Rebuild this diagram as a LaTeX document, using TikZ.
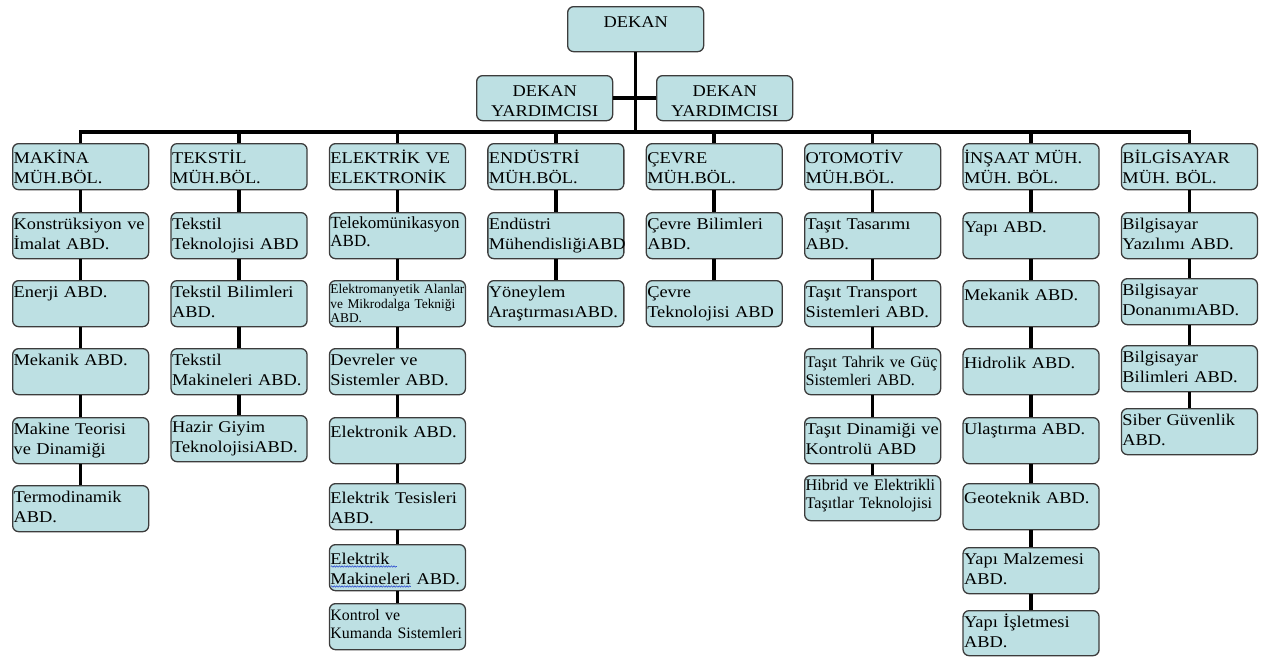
\documentclass[tikz,border=0pt]{standalone}
\usepackage{fontspec}
\setmainfont{Liberation Serif}[FakeStretch=1.12]
\newfontfamily\plainserif{Liberation Serif}
\usetikzlibrary{decorations.pathmorphing}
\definecolor{boxfill}{HTML}{BDE0E3}
\definecolor{boxline}{HTML}{3C3C3C}
\definecolor{spellblue}{HTML}{3050D0}
\newcommand\fbig{\fontsize{16.4pt}{20pt}\selectfont}
\newcommand\fmed{\plainserif\fontsize{16.2pt}{18pt}\selectfont}
\newcommand\fmedl{\plainserif\fontsize{17pt}{18pt}\selectfont}
\newcommand\fmeds{\plainserif\fontsize{15.9pt}{18pt}\selectfont}
\newcommand\fsml{\plainserif\fontsize{13.4pt}{14.5pt}\selectfont}
\begin{document}
\begin{tikzpicture}[x=1pt,y=-1pt,
  orgbox/.style={draw=boxline, fill=boxfill, line width=1.3pt, rounded corners=6pt,
    anchor=north west, text width=134pt, inner xsep=1pt, inner ysep=0.5pt,
    align=left, font=\fbig, text height=16pt, text depth=29pt},
  hdr/.style={orgbox, text height=19pt, text depth=26pt},
  low/.style={orgbox, text height=19.5pt, text depth=25.5pt},
  med/.style={orgbox, font=\fmed, text height=15pt, text depth=30pt},
  sml/.style={orgbox, font=\fsml, text height=12.5pt, text depth=32.5pt},
  deanbox/.style={orgbox, align=center, text height=20pt, text depth=24pt},
  link/.style={line width=3.6pt, black},
  spell/.style={spellblue, line width=0.6pt, decorate,
    decoration={snake, amplitude=0.7pt, segment length=2.6pt}}
]
\useasboundingbox (0,0) rectangle (1261,656);

% top
\node[deanbox] (dekan) at (567,6) {DEKAN};
\node[deanbox] (yl) at (476,75) {DEKAN\\YARDIMCISI};
\node[deanbox] (yr) at (656,75) {DEKAN\\YARDIMCISI};
\coordinate (bus) at (636,132);

% MAKINA
\node[hdr] (m0) at (12,143) {MAKİNA\\MÜH.BÖL.};
\node[orgbox] (m1) at (12,212) {Konstrüksiyon ve\\İmalat ABD.};
\node[orgbox] (m2) at (12,280) {Enerji ABD.};
\node[orgbox] (m3) at (12,348) {Mekanik ABD.};
\node[orgbox] (m4) at (12,417) {Makine Teorisi\\ve Dinamiği};
\node[orgbox] (m5) at (12,485) {Termodinamik\\ABD.};

% TEKSTIL
\node[hdr] (t0) at (170.4,143) {TEKSTİL\\MÜH.BÖL.};
\node[orgbox] (t1) at (170.4,212) {Tekstil\\Teknolojisi ABD};
\node[orgbox] (t2) at (170.4,280) {Tekstil Bilimleri\\ABD.};
\node[orgbox] (t3) at (170.4,348) {Tekstil\\Makineleri ABD.};
\node[orgbox] (t4) at (170.4,415) {Hazir Giyim\\TeknolojisiABD.};

% ELEKTRIK
\node[hdr] (e0) at (328.8,143) {ELEKTRİK VE\\ELEKTRONİK};
\node[med, font=\fmedl] (e1) at (328.8,212) {Telekomünikasyon\\ABD.};
\node[sml] (e2) at (328.8,280) {Elektromanyetik Alanlar\\ve Mikrodalga Tekniği\\ABD.};
\node[orgbox] (e3) at (328.8,348) {Devreler ve\\Sistemler ABD.};
\node[low] (e4) at (328.8,417) {Elektronik ABD.};
\node[low] (e5) at (328.8,483) {Elektrik Tesisleri\\ABD.};
\node[low] (e6) at (328.8,544) {Elektrik\\Makineleri ABD.};
\node[med, font=\fmeds, text height=16pt, text depth=29pt] (e7) at (328.8,603) {Kontrol ve\\Kumanda Sistemleri};

% ENDUSTRI
\node[hdr] (n0) at (487.2,143) {ENDÜSTRİ\\MÜH.BÖL.};
\node[orgbox] (n1) at (487.2,212) {Endüstri\\MühendisliğiABD};
\node[orgbox] (n2) at (487.2,280) {Yöneylem\\AraştırmasıABD.};

% CEVRE
\node[hdr] (c0) at (645.6,143) {ÇEVRE\\MÜH.BÖL.};
\node[orgbox] (c1) at (645.6,212) {Çevre Bilimleri\\ABD.};
\node[orgbox] (c2) at (645.6,280) {Çevre\\Teknolojisi ABD};

% OTOMOTIV
\node[hdr] (o0) at (804,143) {OTOMOTİV\\MÜH.BÖL.};
\node[orgbox] (o1) at (804,212) {Taşıt Tasarımı\\ABD.};
\node[orgbox] (o2) at (804,280) {Taşıt Transport\\Sistemleri ABD.};
\node[med, text height=18pt, text depth=27pt] (o3) at (804,348) {Taşıt Tahrik ve Güç\\Sistemleri ABD.};
\node[orgbox] (o4) at (804,417) {Taşıt Dinamiği ve\\Kontrolü ABD};
\node[med, text height=14pt, text depth=30pt] (o5) at (804,475) {Hibrid ve Elektrikli\\Taşıtlar Teknolojisi};

% INSAAT
\node[hdr] (i0) at (962.4,143) {İNŞAAT MÜH.\\MÜH. BÖL.};
\node[low] (i1) at (962.4,212) {Yapı ABD.};
\node[low] (i2) at (962.4,280) {Mekanik ABD.};
\node[low] (i3) at (962.4,348) {Hidrolik ABD.};
\node[orgbox] (i4) at (962.4,417) {Ulaştırma ABD.};
\node[low] (i5) at (962.4,483) {Geoteknik ABD.};
\node[orgbox] (i6) at (962.4,547) {Yapı Malzemesi\\ABD.};
\node[orgbox, text depth=28pt] (i7) at (962.4,610) {Yapı İşletmesi\\ABD.};

% BILGISAYAR
\node[hdr] (b0) at (1120.8,143) {BİLGİSAYAR\\MÜH. BÖL.};
\node[orgbox] (b1) at (1120.8,212) {Bilgisayar\\Yazılımı ABD.};
\node[orgbox] (b2) at (1120.8,278) {Bilgisayar\\DonanımıABD.};
\node[orgbox] (b3) at (1120.8,345) {Bilgisayar\\Bilimleri ABD.};
\node[orgbox] (b4) at (1120.8,408) {Siber Güvenlik\\ABD.};

% connectors
\draw[link] (dekan.south) -- (dekan.south |- bus);
\draw[link] (yl.east) -- (yr.west);
\draw[link] (m0.north) -- (m0.north |- bus) -- (b0.north |- bus) -- (b0.north);
\foreach \d in {t0,e0,n0,c0,o0,i0}
  \draw[link] (\d.north |- bus) -- (\d.north);
\foreach \a/\b in {m0/m1,m1/m2,m2/m3,m3/m4,m4/m5,
                   t0/t1,t1/t2,t2/t3,t3/t4,
                   e0/e1,e1/e2,e2/e3,e3/e4,e4/e5,e5/e6,e6/e7,
                   n0/n1,n1/n2, c0/c1,c1/c2,
                   o0/o1,o1/o2,o2/o3,o3/o4,o4/o5,
                   i0/i1,i1/i2,i2/i3,i3/i4,i4/i5,i5/i6,i6/i7,
                   b0/b1,b1/b2,b2/b3,b3/b4}
  \draw[link] (\a.south) -- (\b.north);

% spell-check underlines
\draw[spell] ([shift={(2,22.5)}]e6.north west) -- ++(66,0);
\draw[spell] ([shift={(2,42.5)}]e6.north west) -- ++(80,0);
\end{tikzpicture}
\end{document}
